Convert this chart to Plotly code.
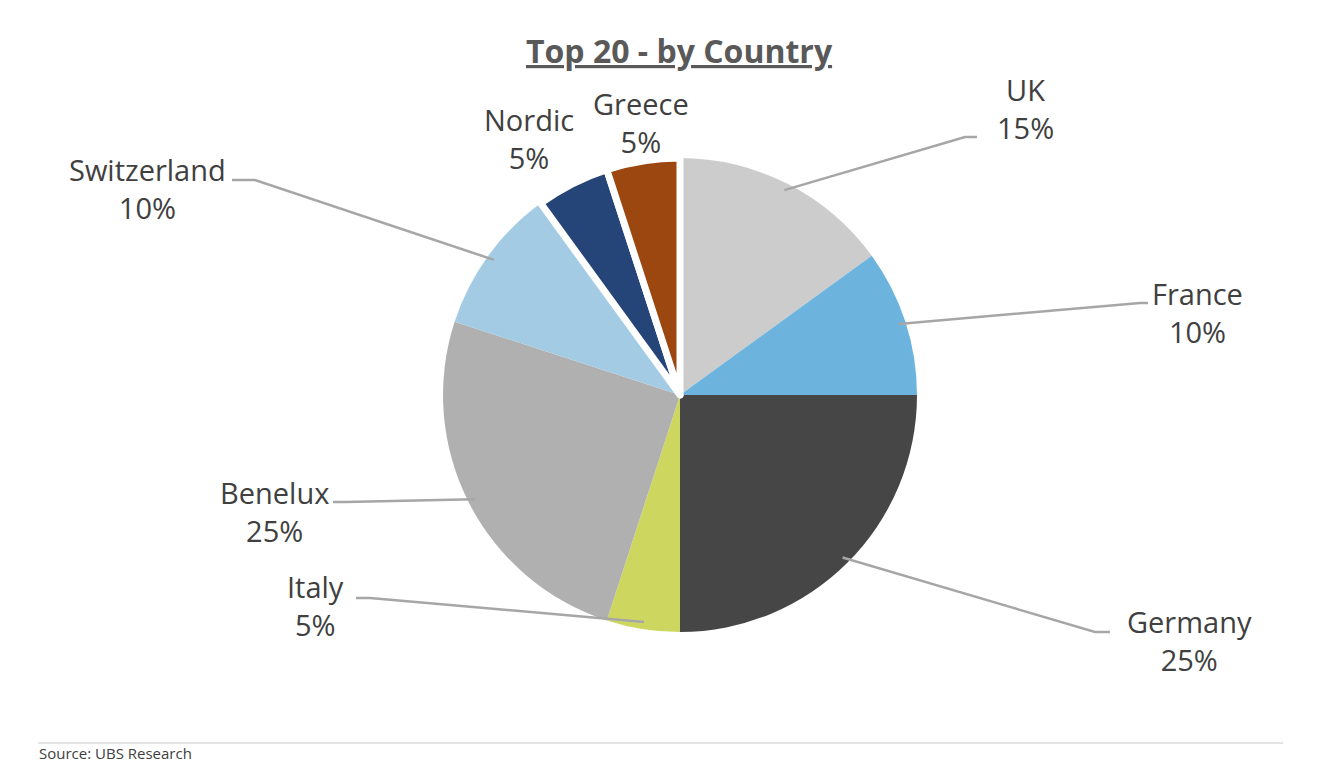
import math
import plotly.graph_objects as go

# ---- data ----
countries = ["UK", "France", "Germany", "Italy", "Benelux", "Switzerland", "Nordic", "Greece"]
shares = [15, 10, 25, 5, 25, 10, 5, 5]
colors = ["#CCCCCC", "#6CB4DE", "#464646", "#CDD75F", "#B0B0B0", "#A3CCE4", "#254478", "#9C470F"]
border_widths = [0, 0, 0, 0, 0, 0, 7, 7]

# ---- layout / styling ----
OFF = 8                      # page body margin
W, H = 1329 - 2 * OFF, 772 - 2 * OFF
CX, CY = 680, 395           # pie centre, screen px
R = 237                      # radius, px
FONT = "Open Sans, Noto Sans, sans-serif"
# label centres (screen px)
label_pos = {
    "UK": (1025, 108), "France": (1197, 312), "Germany": (1189, 640), "Italy": (315, 605),
    "Benelux": (274, 511), "Switzerland": (147, 188), "Nordic": (529, 138), "Greece": (641, 122),
}
leader_end = {
    "UK": [(965, 137), (977, 137)], "France": [(1140, 303), (1148, 303)],
    "Germany": [(1095, 632), (1110, 632)], "Italy": [(370, 598), (356, 598)],
    "Benelux": [(345, 502), (333, 502)], "Switzerland": [(255, 180), (232, 180)],
    "Nordic": None, "Greece": None,
}


def px(x, y):
    return (x - OFF) / W, 1 - (y - OFF) / H


dx0, dy0 = px(CX - R, CY + R)
dx1, dy1 = px(CX + R, CY - R)

fig = go.Figure(go.Pie(
    labels=countries, values=shares, sort=False, direction="clockwise", rotation=0,
    marker=dict(colors=colors, line=dict(color="white", width=border_widths)),
    textinfo="none", hoverinfo="label+percent", showlegend=False,
    domain=dict(x=[dx0, dx1], y=[dy0, dy1]),
))

total = sum(shares)
annotations = []
shapes = []
cum = 0
for name, v in zip(countries, shares):
    mid = (cum + v / 2) / total * 2 * math.pi
    cum += v
    lx, ly = label_pos[name]
    ax, ay = px(lx, ly)
    annotations.append(dict(
        x=ax, y=ay, xref="paper", yref="paper", showarrow=False,
        text=f"{name}<br>{v / total:.0%}", align="center",
        xanchor="center", yanchor="middle",
        font=dict(family=FONT, size=29, color="#404040"),
    ))
    ends = leader_end[name]
    if ends:
        r0 = R * 0.97
        sx, sy = CX + r0 * math.sin(mid), CY - r0 * math.cos(mid)
        pts = [(sx, sy)] + ends
        path = "M " + " L ".join(f"{px(x, y)[0]},{px(x, y)[1]}" for x, y in pts)
        shapes.append(dict(type="path", path=path, xref="paper", yref="paper",
                           line=dict(color="#A6A6A6", width=2.5)))

# title
tx, ty = px(679, 50)
annotations.append(dict(x=tx, y=ty, xref="paper", yref="paper", showarrow=False,
                        text="<b><u>Top 20 - by Country</u></b>", xanchor="center", yanchor="middle",
                        font=dict(family=FONT, size=32, color="#595959")))
# source
sx_, sy_ = px(37, 753)
annotations.append(dict(x=sx_, y=sy_, xref="paper", yref="paper", showarrow=False,
                        text="Source: UBS Research", xanchor="left", yanchor="middle",
                        font=dict(family=FONT, size=15, color="#404040")))
x0, yl = px(38, 743)
x1, _ = px(1283, 743)
shapes.append(dict(type="line", x0=x0, x1=x1, y0=yl, y1=yl, xref="paper", yref="paper",
                   line=dict(color="#C8C8C8", width=1)))

fig.update_layout(width=W, height=H, margin=dict(l=0, r=0, t=0, b=0),
                  paper_bgcolor="white", plot_bgcolor="white",
                  annotations=annotations, shapes=shapes)
fig.write_html("out.html")
